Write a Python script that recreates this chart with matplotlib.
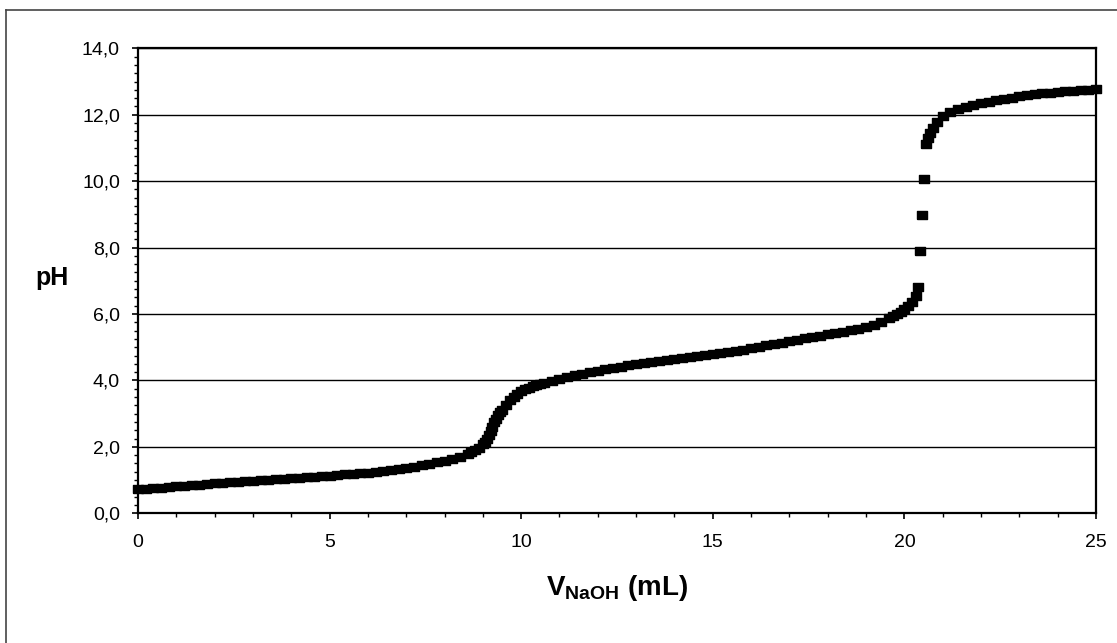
import numpy as np
import matplotlib
matplotlib.use("Agg")
import matplotlib.pyplot as plt
from matplotlib.ticker import MultipleLocator, FuncFormatter
from matplotlib.lines import Line2D

plt.rcParams['font.family'] = ['Liberation Sans', 'DejaVu Sans']
plt.rcParams['mathtext.fontset'] = 'custom'
plt.rcParams['mathtext.rm'] = 'Liberation Sans'
plt.rcParams['mathtext.bf'] = 'Liberation Sans:bold'

v_naoh = [0.0, 0.2, 0.4, 0.6, 0.8, 1.0, 1.2, 1.4, 1.6, 1.8,
          2.0, 2.2, 2.4, 2.6, 2.8, 3.0, 3.2, 3.4, 3.6, 3.8,
          4.0, 4.2, 4.4, 4.6, 4.8, 5.0, 5.2, 5.4, 5.6, 5.8,
          6.0, 6.2, 6.4, 6.6, 6.8, 7.0, 7.2, 7.4, 7.6, 7.8,
          8.0, 8.2, 8.4, 8.6, 8.7, 8.8, 8.9, 9.0, 9.05, 9.1, 9.15, 9.2,
          9.25, 9.3, 9.35, 9.4, 9.45, 9.5, 9.6, 9.7, 9.8, 9.9, 10.0, 10.1, 10.2,
          10.3, 10.4, 10.5, 10.6, 10.8, 11.0, 11.2, 11.4, 11.6, 11.8,
          12.0, 12.2, 12.4, 12.6, 12.8, 13.0, 13.2, 13.4, 13.6, 13.8,
          14.0, 14.2, 14.4, 14.6, 14.8, 15.0, 15.2, 15.4, 15.6, 15.8,
          16.0, 16.2, 16.4, 16.6, 16.8, 17.0, 17.2, 17.4, 17.6, 17.8,
          18.0, 18.2, 18.4, 18.6, 18.8, 19.0, 19.2, 19.4, 19.6, 19.7,
          19.8, 19.9, 20.0, 20.1, 20.2, 20.3, 20.35, 20.42, 20.47, 20.52,
          20.56, 20.62, 20.67, 20.75, 20.85, 21.0, 21.2, 21.4, 21.6, 21.8,
          22.0, 22.2, 22.4, 22.6, 22.8, 23.0, 23.2, 23.4, 23.6, 23.8,
          24.0, 24.2, 24.4, 24.6, 24.8, 25.0]
ph = [0.72, 0.74, 0.75, 0.77, 0.79, 0.81, 0.83, 0.84, 0.86, 0.88,
      0.90, 0.91, 0.93, 0.94, 0.96, 0.97, 0.99, 1.00, 1.02, 1.04,
      1.05, 1.07, 1.09, 1.10, 1.12, 1.13, 1.15, 1.17, 1.19, 1.20,
      1.22, 1.25, 1.28, 1.30, 1.33, 1.36, 1.40, 1.44, 1.48, 1.53,
      1.58, 1.64, 1.71, 1.79, 1.84, 1.90, 1.97, 2.08, 2.16, 2.25, 2.36, 2.48,
      2.61, 2.74, 2.85, 2.95, 3.04, 3.12, 3.27, 3.40, 3.51, 3.60, 3.67, 3.73, 3.78,
      3.82, 3.86, 3.90, 3.93, 3.98, 4.04, 4.10, 4.15, 4.19, 4.24,
      4.29, 4.33, 4.37, 4.41, 4.45, 4.49, 4.52, 4.55, 4.59, 4.62,
      4.65, 4.68, 4.71, 4.74, 4.77, 4.80, 4.83, 4.86, 4.90, 4.93,
      4.97, 5.01, 5.06, 5.10, 5.14, 5.18, 5.23, 5.27, 5.31, 5.35,
      5.39, 5.43, 5.47, 5.51, 5.56, 5.61, 5.68, 5.77, 5.87, 5.93,
      5.99, 6.06, 6.14, 6.24, 6.37, 6.55, 6.80, 7.90, 8.98, 10.06,
      11.13, 11.30, 11.44, 11.60, 11.78, 11.95, 12.08, 12.16, 12.23, 12.29,
      12.34, 12.39, 12.43, 12.47, 12.51, 12.55, 12.58, 12.61, 12.64, 12.66,
      12.68, 12.70, 12.72, 12.73, 12.75, 12.76]

fig = plt.figure(figsize=(11.17, 6.43), dpi=100)
ax = fig.add_axes([0.1235, 0.2017, 0.8577, 0.7232])

# wide rectangular marker like the spreadsheet one
rect = [(-1, -0.76), (1, -0.76), (1, 0.76), (-1, 0.76), (-1, -0.76)]
ax.plot(v_naoh, ph, linestyle='none', marker=rect, ms=7.4,
        color='black', clip_on=False, zorder=3)

ax.set_xlim(0, 25)
ax.set_ylim(0, 14)
ax.xaxis.set_major_locator(MultipleLocator(5))
ax.xaxis.set_minor_locator(MultipleLocator(1))
ax.yaxis.set_major_locator(MultipleLocator(2))
ax.yaxis.set_minor_locator(MultipleLocator(0.25))
ax.yaxis.set_major_formatter(FuncFormatter(lambda v, p: f"{v:.1f}".replace('.', ',')))

ax.grid(axis='y', which='major', color='black', linewidth=1.0)
ax.set_axisbelow(True)
for s in ax.spines.values():
    s.set_linewidth(1.6)
    s.set_color('black')

ax.tick_params(which='major', direction='out', length=4, width=1.2,
               labelsize=14, pad=9, colors='black')
ax.tick_params(axis='x', which='major', pad=11)
ax.tick_params(which='minor', direction='out', length=3, width=1)

ax.set_xlabel(r"V$_{\mathbf{NaOH}}$ (mL)", fontsize=20, fontweight='bold', labelpad=16)
ax.set_ylabel("pH", fontsize=18, fontweight='bold', rotation=0, va='center', ha='center')
ax.yaxis.set_label_coords(-0.09, 0.505)

# outer chart frame (top and left edges visible in the scan)
fig.add_artist(Line2D([6 / 1117, 1.0], [1 - 10 / 643, 1 - 10 / 643],
                      transform=fig.transFigure, color='#444444', linewidth=1.2))
fig.add_artist(Line2D([6 / 1117, 6 / 1117], [0.0, 1 - 10 / 643],
                      transform=fig.transFigure, color='#444444', linewidth=1.2))

fig.savefig("out.png", dpi=100)
